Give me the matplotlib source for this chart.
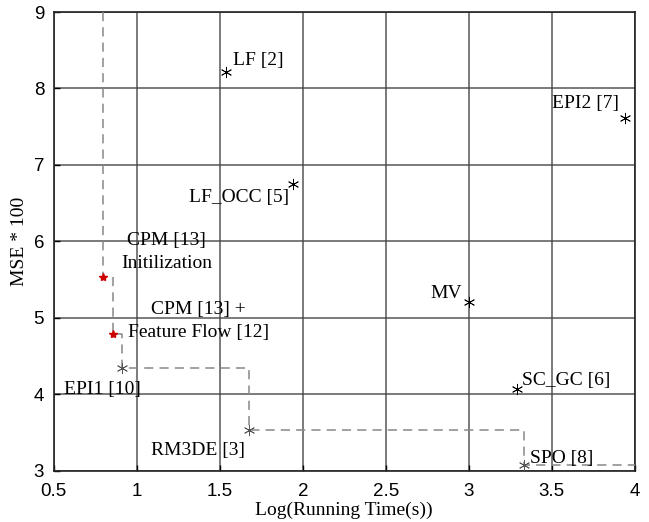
import numpy as np
import matplotlib.pyplot as plt

# running time (log) and MSE*100 for each method
methods = ['LF [2]', 'LF_OCC [5]', 'EPI2 [7]', 'MV', 'SC_GC [6]', 'SPO [8]',
           'RM3DE [3]', 'EPI1 [10]', 'CPM [13] +\nFeature Flow [12]', 'CPM [13]\nInitilization']
log_time = [1.54, 1.94, 3.94, 3.0, 3.29, 3.33, 1.675, 0.91, 0.855, 0.795]
mse = [8.21, 6.75, 7.61, 5.21, 4.07, 3.07, 3.53, 4.35, 4.79, 5.54]
colors = ['k', 'k', 'k', 'k', 'k', '#555555', '#555555', '#555555', '#cc0000', '#cc0000']

# label anchor points (x, y, ha)
label_x = [1.58, 1.92, 3.50, 2.96, 3.32, 3.37, 1.37, 0.79, 1.37, 1.18]
label_y = [8.37, 6.57, 7.80, 5.32, 4.18, 3.16, 3.26, 4.07, 4.96, 5.86]
label_ha = ['left', 'right', 'left', 'right', 'left', 'left', 'center', 'center', 'center', 'center']

xticks = [0.5, 1, 1.5, 2, 2.5, 3, 3.5, 4]
yticks = [3, 4, 5, 6, 7, 8, 9]

fig = plt.figure(figsize=(6.49, 5.22), dpi=100)
ax = fig.add_axes([0.083, 0.098, 0.895, 0.879])

# pareto front (step line) through the fastest/best methods
front = ['CPM [13]\nInitilization', 'CPM [13] +\nFeature Flow [12]', 'EPI1 [10]', 'RM3DE [3]', 'SPO [8]']
fx = [log_time[methods.index(m)] for m in front]
fy = [mse[methods.index(m)] for m in front]
step_x = fx + [xticks[-1]]
step_y = [yticks[-1]] + fy
ax.plot(step_x, step_y, drawstyle='steps-pre', ls=(0, (6, 4)), color='#888888', lw=1.1, zorder=3)

for xi, yi, c in zip(log_time, mse, colors):
    if c == '#cc0000':
        ax.plot(xi, yi, marker='*', ms=6, color=c, ls='none', zorder=4)
    else:
        ax.plot(xi, yi, marker=(6, 2, 0), ms=8, mew=0.6, color=c, ls='none', zorder=4)

for name, tx, ty, ha in zip(methods, label_x, label_y, label_ha):
    ax.text(tx, ty, name, ha=ha, va='center', fontsize=14,
            family='Liberation Serif', linespacing=1.45, zorder=5)

ax.set_xlim(0.5, 4)
ax.set_ylim(3, 9)
ax.set_xticks(xticks)
ax.set_xticklabels(['0.5', '1', '1.5', '2', '2.5', '3', '3.5', '4'])
ax.set_yticks(yticks)
ax.tick_params(direction='in', labelsize=13.5, length=4, width=1)
ax.tick_params(axis='x', pad=9)
ax.tick_params(axis='y', pad=7)
for lab in ax.get_xticklabels() + ax.get_yticklabels():
    lab.set_family('Liberation Sans')
ax.grid(True, color='#444444', lw=1.1, alpha=0.9)
ax.set_axisbelow(True)
for s in ax.spines.values():
    s.set_linewidth(1.2)
    s.set_color('#222222')

ax.set_xlabel('Log(Running Time(s))', fontsize=14, family='Liberation Serif', labelpad=1)
ax.set_ylabel('MSE * 100', fontsize=14, family='Liberation Serif', labelpad=4)

fig.savefig('out.png', dpi=100)
